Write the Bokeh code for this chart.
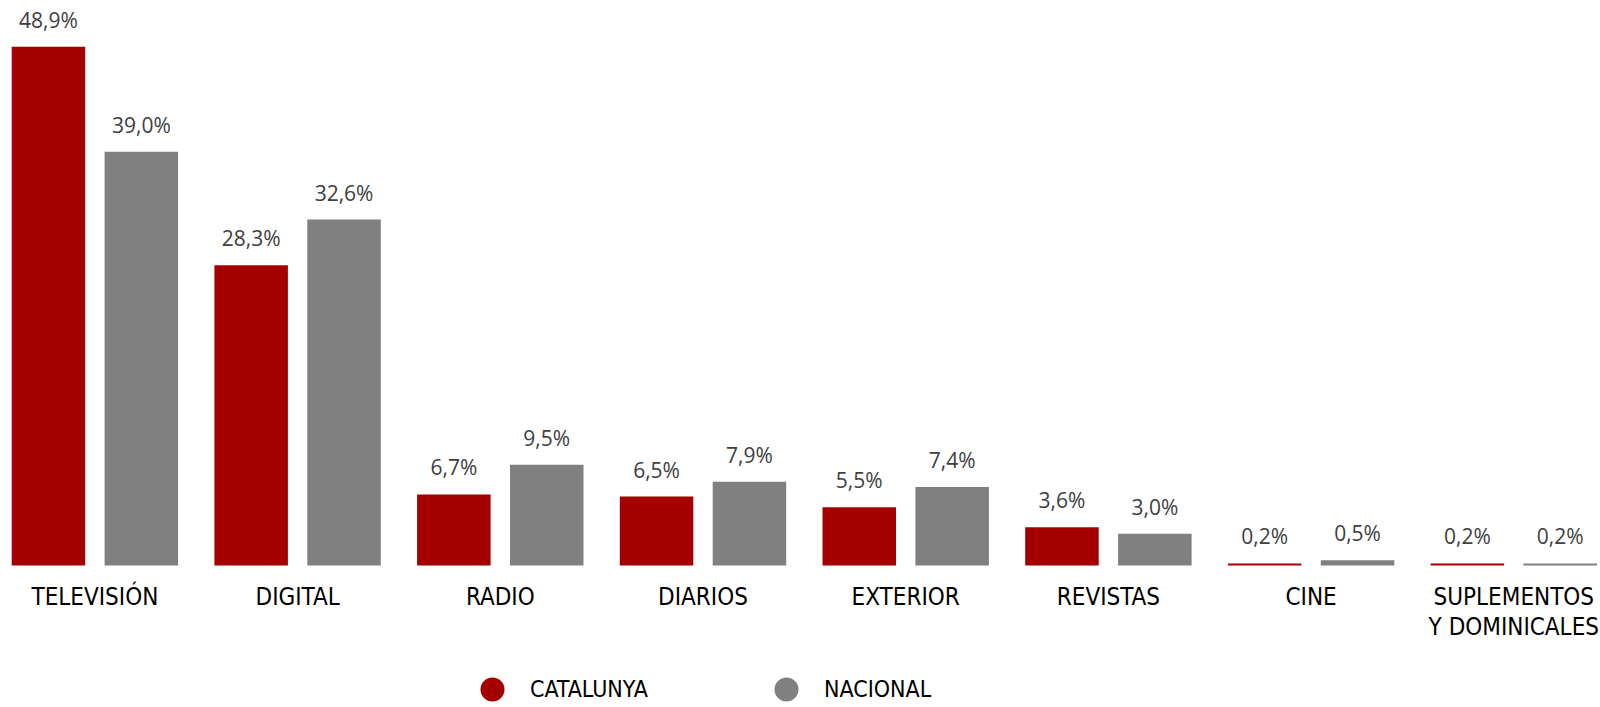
from bokeh.plotting import figure
from bokeh.models import ColumnDataSource, Range1d, Legend, LegendItem
from bokeh.transform import dodge
from bokeh.core.properties import value
from bokeh.embed import file_html
from bokeh.resources import INLINE

# ---- data ----
categories = ["TELEVISIÓN", "DIGITAL", "RADIO", "DIARIOS", "EXTERIOR",
              "REVISTAS", "CINE", "SUPLEMENTOS\nY DOMINICALES"]
catalunya = [48.9, 28.3, 6.7, 6.5, 5.5, 3.6, 0.2, 0.2]
nacional = [39.0, 32.6, 9.5, 7.9, 7.4, 3.0, 0.5, 0.2]
series_names = ["CATALUNYA", "NACIONAL"]
series_colors = ["#A50000", "#808080"]


def fmt(v):
    return f"{v:.1f}%".replace(".", ",")


idx = list(range(len(categories)))
src = ColumnDataSource(dict(
    idx=idx,
    name=categories,
    base=[0] * len(categories),
    cat=catalunya, nac=nacional,
    cat_lbl=[fmt(v) for v in catalunya],
    nac_lbl=[fmt(v) for v in nacional],
))

# ---- layout ----
W, H = 1600, 707
BASE_Y = 565           # page px of the zero line
PITCH = 202.7          # px per category
PX_PER_UNIT = 10.61    # px per percentage point
BAR_W = 73.5 / PITCH
OFF = 46.45 / PITCH
x_start = -94.4 / PITCH

LABEL_FONT = "'Liberation Sans Narrow', 'DejaVu Sans Condensed', sans-serif"

p = figure(width=W, height=H,
           x_range=Range1d(x_start, x_start + W / PITCH),
           y_range=Range1d(-(H - BASE_Y) / PX_PER_UNIT, BASE_Y / PX_PER_UNIT),
           output_backend="svg", toolbar_location=None,
           x_axis_location=None, y_axis_location=None,
           min_border_left=0, min_border_right=0, min_border_top=0,
           min_border_bottom=0)
p.outline_line_color = None
p.xgrid.visible = False
p.ygrid.visible = False
p.background_fill_color = "white"
p.border_fill_color = "white"

for col, lbl, off, color in [("cat", "cat_lbl", -OFF, series_colors[0]),
                             ("nac", "nac_lbl", OFF, series_colors[1])]:
    p.vbar(x=dodge("idx", off, range=p.x_range), top=col, bottom="base",
           width=BAR_W, source=src, fill_color=color, line_color=None)
    p.text(x=dodge("idx", off, range=p.x_range), y=col, text=lbl, source=src,
           text_align="center", text_baseline="alphabetic", y_offset=-27,
           text_font=value("Open Sans"), text_font_size="21px",
           text_color="#404040")

# category labels under the zero line
p.text(x="idx", y="base", text="name", source=src,
       text_align="center", text_baseline="top", y_offset=17,
       text_line_height=1.1,
       text_font=value(LABEL_FONT), text_font_size="24px",
       text_color="#000000")

nan = float("nan")
items = []
for name, color in zip(series_names, series_colors):
    r = p.scatter(x=[nan], y=[nan], marker="circle", size=24,
                  fill_color=color, line_color=None)
    items.append(LegendItem(label=name, renderers=[r]))

legend = Legend(items=items, orientation="horizontal", location=(462, -12),
                glyph_width=60, glyph_height=60, label_standoff=8,
                label_width=205, spacing=21, padding=0, margin=0,
                border_line_color=None, background_fill_alpha=0,
                label_text_font=LABEL_FONT, label_text_font_size="23px",
                label_text_color="#000000")
p.add_layout(legend)

open("out.html", "w").write(file_html(p, INLINE))
